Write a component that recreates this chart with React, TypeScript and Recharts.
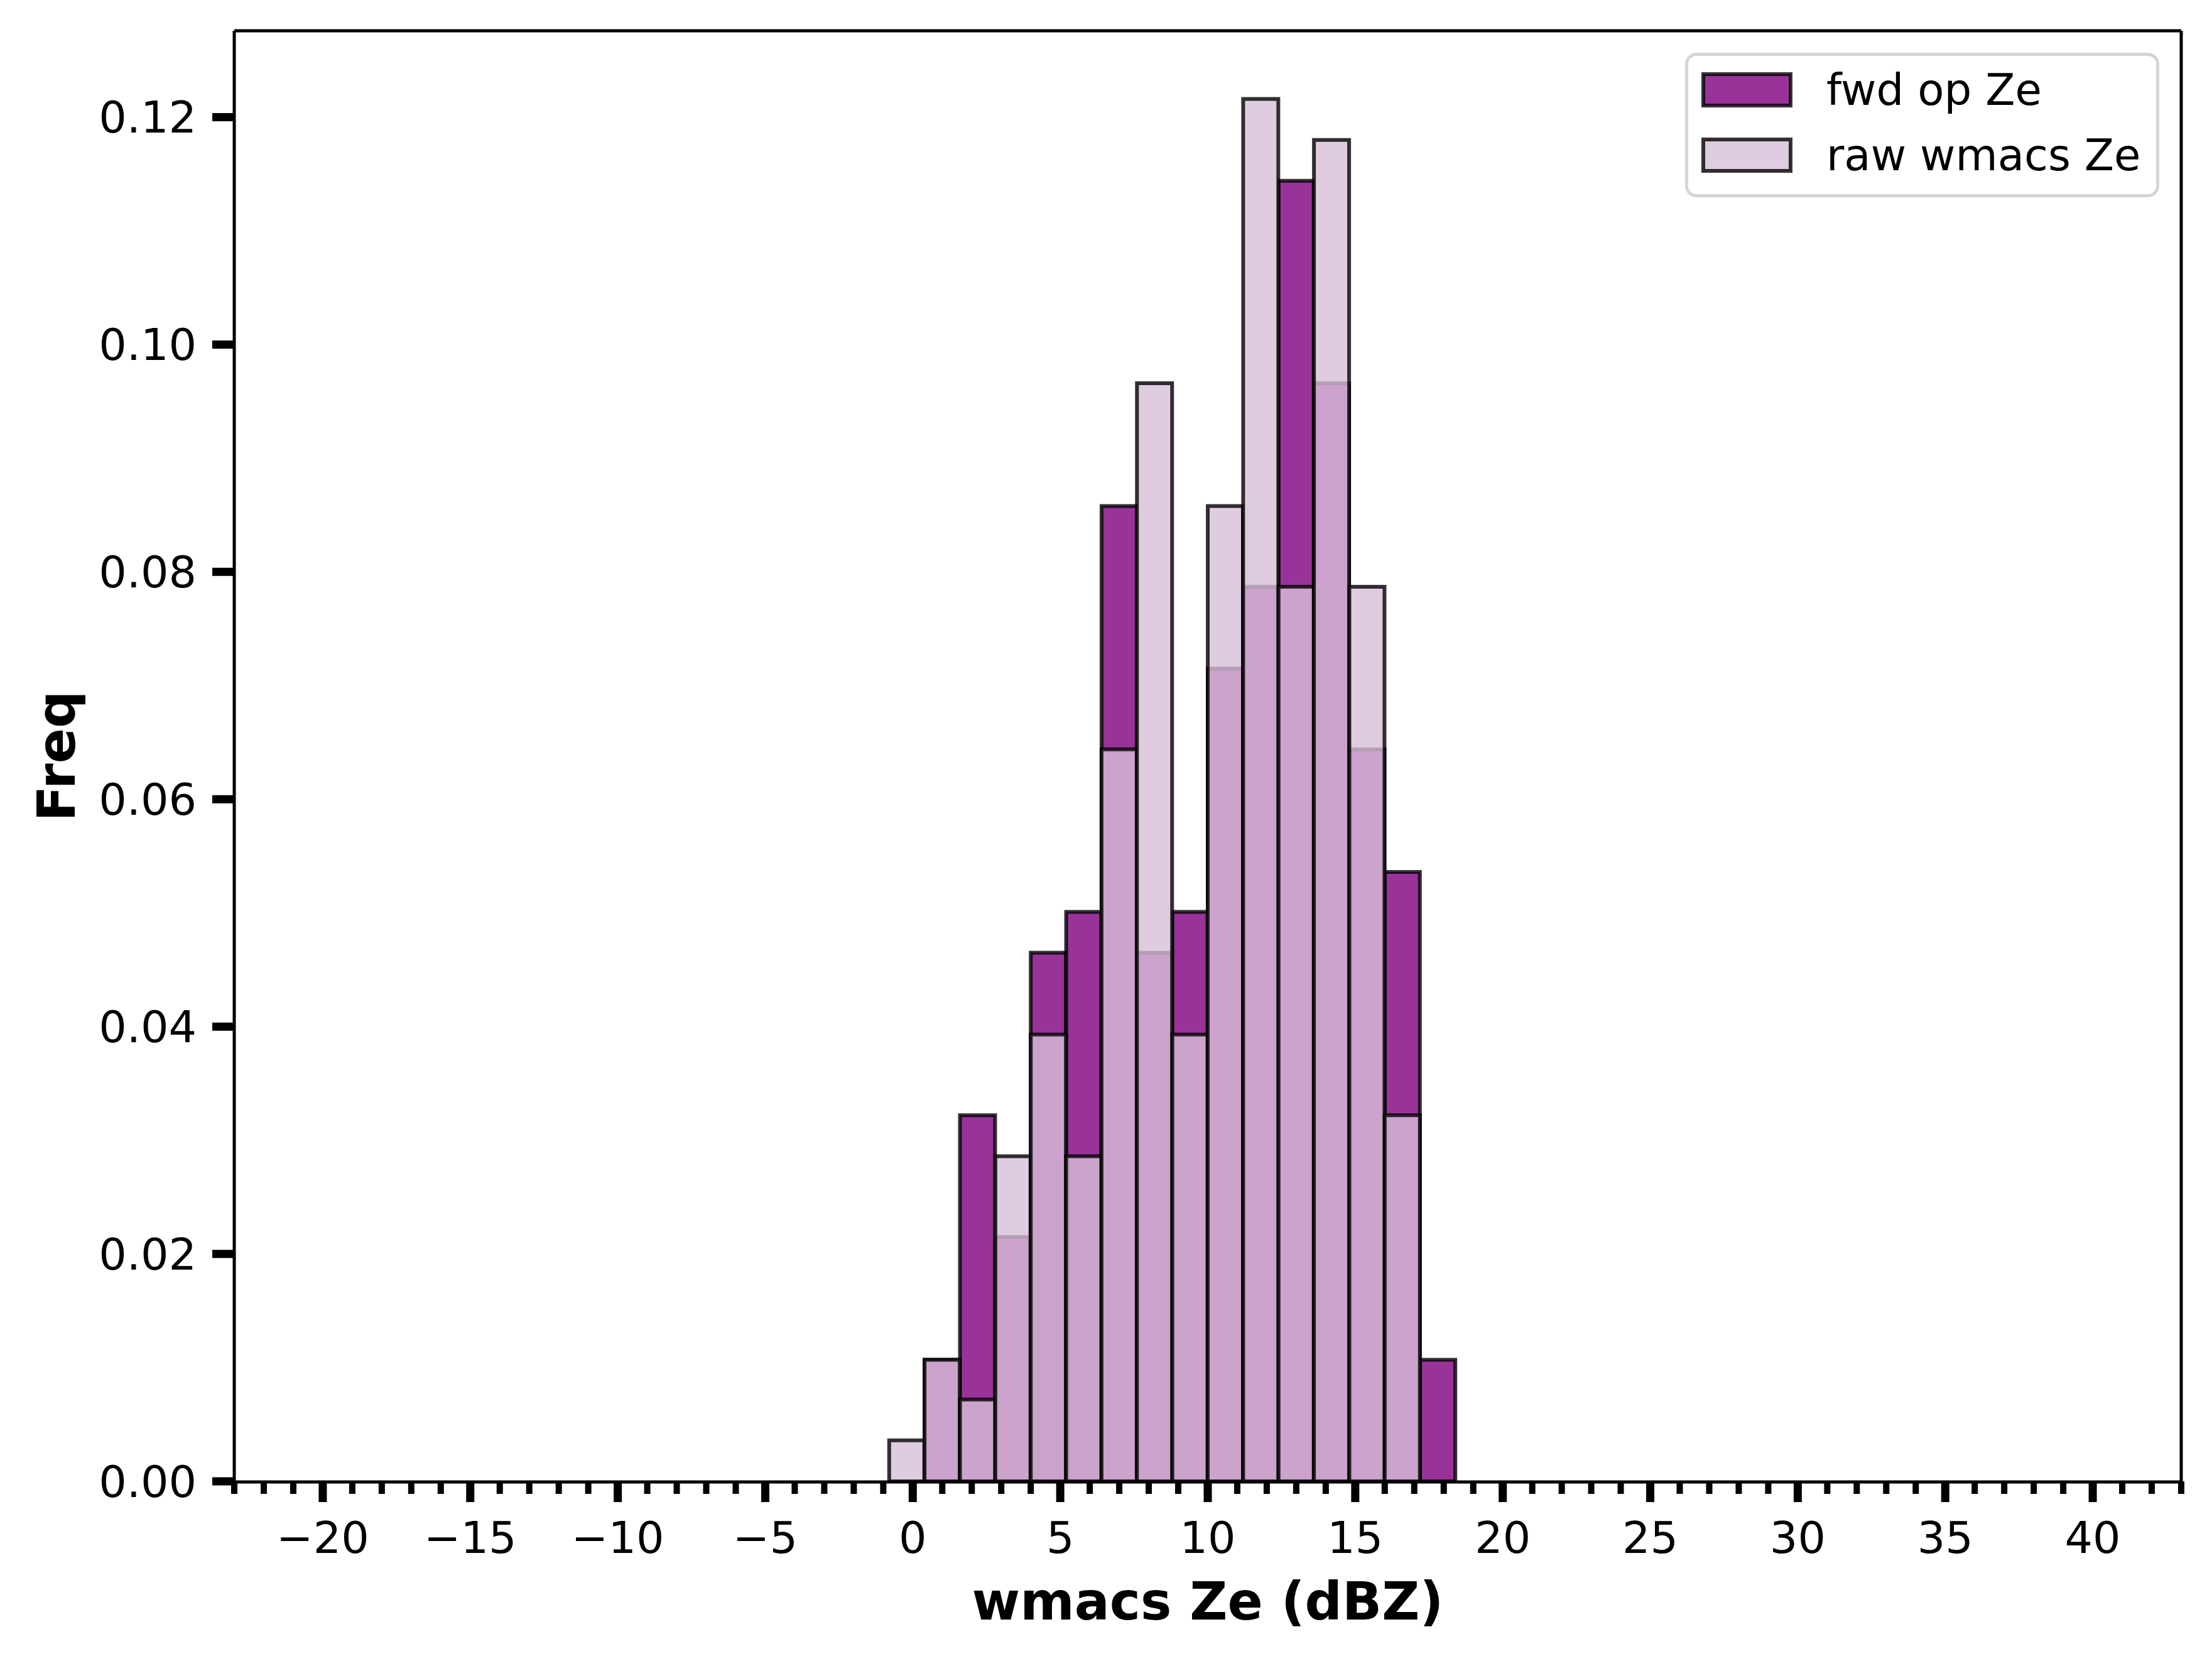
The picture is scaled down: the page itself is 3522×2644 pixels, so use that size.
import { ComposedChart, Bar, XAxis, YAxis, Legend } from "recharts";

// histogram bins (centres, dBZ), bin width 1.2
const binCenters = [-0.2, 1.0, 2.2, 3.4, 4.6, 5.8, 7.0, 8.2, 9.4, 10.6, 11.8, 13.0, 14.2, 15.4, 16.6, 17.8];
const fwdFreq = [0, 0.0107, 0.0322, 0.0215, 0.0465, 0.0501, 0.0858, 0.0465, 0.0501, 0.0715, 0.0787, 0.1144, 0.0966, 0.0644, 0.0536, 0.0107];
const rawFreq = [0.0036, 0.0107, 0.0072, 0.0286, 0.0393, 0.0286, 0.0644, 0.0966, 0.0393, 0.0858, 0.1216, 0.0787, 0.118, 0.0787, 0.0322, 0];

const seriesNames = ["fwd op Ze", "raw wmacs Ze"];
const xMajorTicks = [-20, -15, -10, -5, 0, 5, 10, 15, 20, 25, 30, 35, 40];
const xMinorTicks = [
  -23, -22, -21, -19, -18, -17, -16, -14, -13, -12, -11, -9, -8, -7, -6, -4, -3, -2, -1,
  1, 2, 3, 4, 6, 7, 8, 9, 11, 12, 13, 14, 16, 17, 18, 19, 21, 22, 23, 24, 26, 27, 28, 29,
  31, 32, 33, 34, 36, 37, 38, 39, 41, 42, 43,
];
const yTicks = [0, 0.02, 0.04, 0.06, 0.08, 0.1, 0.12];

const xDomain = [-23, 43];
const yDomain = [0, 0.1276];

const data = binCenters.map((ze, i) => ({ ze, fwd: fwdFreq[i], raw: rawFreq[i] }));

const FONT = "'DejaVu Sans', sans-serif";
const FWD_COLOR = "#800080";
const RAW_COLOR = "#D8BFD8";

const tickText = { fontFamily: FONT, fontSize: 70, fill: "#000" };
const labelStyle = { fontFamily: FONT, fontSize: 83, fontWeight: "bold", fill: "#000" };

function Swatch({ color }: { color: string }) {
  return (
    <svg width={145} height={56} style={{ display: "block" }}>
      <rect x={3} y={3} width={139} height={50} fill={color} fillOpacity={0.8} stroke="#000" strokeOpacity={0.8} strokeWidth={6} />
    </svg>
  );
}

function LegendBox() {
  const colors = [FWD_COLOR, RAW_COLOR];
  return (
    <div
      style={{
        position: "relative",
        width: 755,
        height: 230,
        boxSizing: "border-box",
        border: "5px solid #d5d5d5",
        borderRadius: 18,
        background: "#fff",
        fontFamily: FONT,
      }}
    >
      {seriesNames.map((name, i) => (
        <div
          key={name}
          style={{
            position: "absolute",
            left: 21,
            top: 26 + i * 104,
            height: 56,
            display: "flex",
            alignItems: "center",
          }}
        >
          <Swatch color={colors[i]} />
          <span style={{ marginLeft: 54, fontSize: 69, lineHeight: 1, color: "#000", whiteSpace: "nowrap" }}>{name}</span>
        </div>
      ))}
    </div>
  );
}

const noLabel = () => "";

export default function App() {
  return (
    <div>
      <style>{"body{margin:0;background:#fff}"}</style>
      <ComposedChart
        width={3522}
        height={2644}
        data={data}
        margin={{ top: 48, right: 48, bottom: 0, left: 0 }}
        barCategoryGap={0}
        barGap={0}
      >
        {/* minor ticks, a 1px high axis sitting on the same line as the main one */}
        <XAxis
          xAxisId="a-minor"
          dataKey="ze"
          type="number"
          domain={xDomain}
          ticks={xMinorTicks}
          interval={0}
          height={1}
          axisLine={false}
          tickSize={20}
          tickLine={{ stroke: "#000", strokeWidth: 10 }}
          tick={tickText}
          tickFormatter={noLabel}
        />
        <XAxis
          xAxisId="b-main"
          dataKey="ze"
          type="number"
          domain={xDomain}
          ticks={xMajorTicks}
          interval={0}
          height={285}
          axisLine={{ stroke: "#000", strokeWidth: 5 }}
          tickSize={32}
          tickMargin={31}
          tickLine={{ stroke: "#000", strokeWidth: 13 }}
          tick={tickText}
          tickFormatter={(v: number) => (v < 0 ? "\u2212" + Math.abs(v) : String(v))}
          label={{ value: "wmacs Ze (dBZ)", position: "insideBottom", offset: 66, style: labelStyle }}
        />
        <XAxis
          xAxisId="top"
          orientation="top"
          dataKey="ze"
          type="number"
          domain={xDomain}
          height={1}
          tickLine={false}
          tick={tickText}
          tickFormatter={noLabel}
          axisLine={{ stroke: "#000", strokeWidth: 5 }}
        />
        <YAxis
          yAxisId="y"
          type="number"
          domain={yDomain}
          ticks={yTicks}
          interval={0}
          width={373}
          axisLine={{ stroke: "#000", strokeWidth: 5 }}
          tickSize={35}
          tickMargin={25}
          tickLine={{ stroke: "#000", strokeWidth: 13 }}
          tick={tickText}
          tickFormatter={(v: number) => v.toFixed(2)}
          label={{
            value: "Freq",
            angle: -90,
            position: "insideLeft",
            offset: 90,
            style: { ...labelStyle, textAnchor: "middle" },
          }}
        />
        <YAxis
          yAxisId="yr"
          orientation="right"
          type="number"
          domain={yDomain}
          width={1}
          tickLine={false}
          tick={tickText}
          tickFormatter={noLabel}
          axisLine={{ stroke: "#000", strokeWidth: 5 }}
        />
        <Bar
          xAxisId="b-main"
          yAxisId="y"
          dataKey="fwd"
          name={seriesNames[0]}
          fill={FWD_COLOR}
          fillOpacity={0.8}
          stroke="#000"
          strokeOpacity={0.8}
          strokeWidth={6}
          isAnimationActive={false}
        />
        <Bar
          xAxisId="a-minor"
          yAxisId="y"
          dataKey="raw"
          name={seriesNames[1]}
          fill={RAW_COLOR}
          fillOpacity={0.8}
          stroke="#000"
          strokeOpacity={0.8}
          strokeWidth={6}
          isAnimationActive={false}
        />
        <Legend
          layout="vertical"
          align="center"
          verticalAlign="middle"
          wrapperStyle={{ left: 2683, top: 84, width: 755, height: 230 }}
          content={() => <LegendBox />}
        />
      </ComposedChart>
    </div>
  );
}
